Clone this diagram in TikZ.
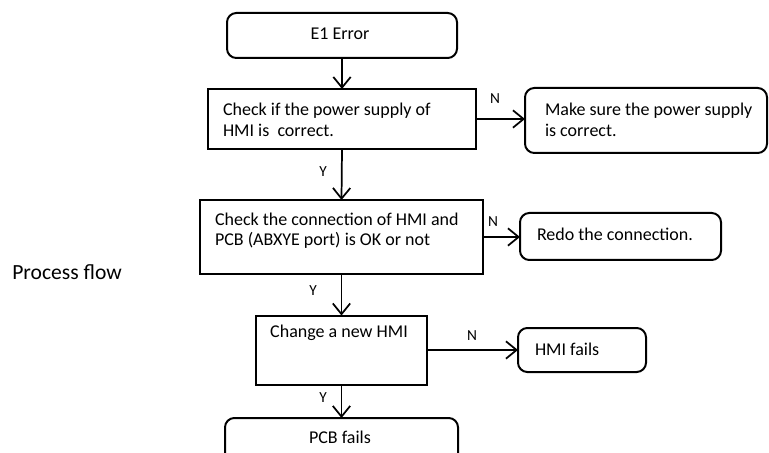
\documentclass[tikz,border=0pt]{standalone}
\usepackage{fontspec}
\setmainfont{Carlito}
\usetikzlibrary{arrows.meta}
\begin{document}
\begin{tikzpicture}[x=0.75pt,y=-0.75pt,
  box/.style={draw,line width=1.5pt,inner sep=0pt,outer sep=0pt},
  rbox/.style={box,rounded corners=7pt},
  txt/.style={inner sep=0pt,outer sep=0pt,font=\fontsize{13.5}{15.75}\selectfont},
  mtxt/.style={txt,align=left,anchor=base west},
  yn/.style={inner sep=0pt,font=\fontsize{11.5}{13}\selectfont},
  arr/.style={line width=1.3pt,-{Straight Barb[length=8pt,width=13pt,line width=1.3pt]}}]
\clip (0,0) rectangle (769,453);
\useasboundingbox (0,0) rectangle (769,453);
% boxes
\node[rbox,minimum width=172.5pt,minimum height=33.75pt] (e1) at (342,35.5) {};
\node[box,minimum width=201pt,minimum height=45pt] (chk1) at (342,119) {};
\node[rbox,minimum width=181.5pt,minimum height=48.75pt] (sure) at (646,120.5) {};
\node[box,minimum width=212.25pt,minimum height=55.5pt] (chk2) at (341.5,237) {};
\node[rbox,minimum width=150.75pt,minimum height=35.25pt] (redo) at (620.5,236.5) {};
\node[box,minimum width=128.25pt,minimum height=51.75pt] (chg) at (341.5,350) {};
\node[rbox,minimum width=96pt,minimum height=33pt] (hmi) at (582,350) {};
\node[rbox,minimum width=174.75pt,minimum height=37.5pt] (pcb) at (341.5,443) {};
% texts
\node[txt,anchor=base] (te1) at (340,39.5) {E1 Error};
\node[mtxt] (tchk1) at (223,136.7) {Check if the power supply of\\HMI is\ \ correct.};
\node[mtxt] (tsure) at (545,137) {Make sure the power supply\\is correct.};
\node[mtxt] (tchk2) at (215,246) {Check the connection of HMI and\\PCB (ABXYE port) is OK or not};
\node[txt,anchor=base west] (tredo) at (537,240) {Redo the connection.};
\node[txt,anchor=base] (tchg) at (339,338) {Change a new HMI};
\node[txt,anchor=base west] (thmi) at (535,355) {HMI fails};
\node[txt,anchor=base] (tpcb) at (340,443) {PCB fails};
\node[inner sep=0pt,anchor=base west,font=\fontsize{16.2}{19}\selectfont] (pf) at (12,280) {Process flow};
% connectors
\draw[arr] (e1.south) -- (chk1.north);
\draw[arr] (chk1.east) -- (chk1.east -| sure.west);
\draw[arr] (chk1.south) -- (chk2.north);
\draw[arr] (chk2.east) -- (chk2.east -| redo.west);
\draw[arr] (chk2.south) -- (chg.north);
\draw[arr] (chg.east) -- (chg.east -| hmi.west);
\draw[arr] (chg.south) -- (pcb.north);
% labels
\node[yn] (n1) at (495,99) {N};
\node[yn] (y1) at (323,172) {Y};
\node[yn] (n2) at (493,222) {N};
\node[yn] (y2) at (313,291) {Y};
\node[yn] (n3) at (472,336) {N};
\node[yn] (y3) at (323,398) {Y};
\end{tikzpicture}
\end{document}
